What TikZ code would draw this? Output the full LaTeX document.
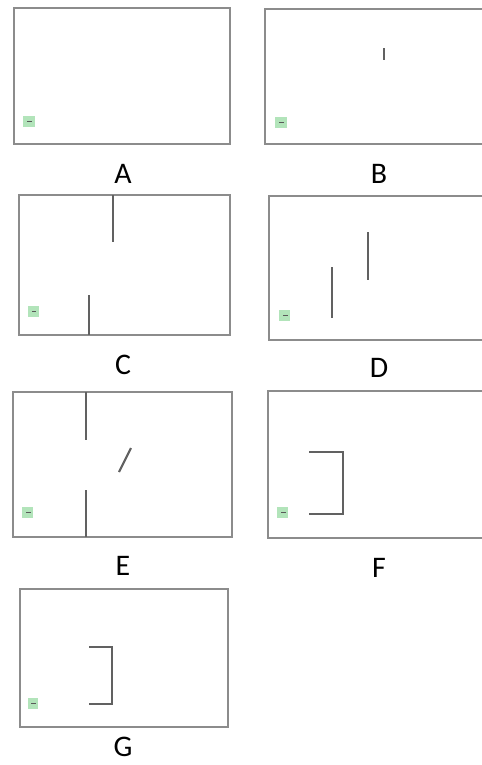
\documentclass[tikz,border=0pt]{standalone}
\usepackage{fontspec}
\setmainfont{Carlito}
\definecolor{padgreen}{RGB}{178,228,186}
\begin{document}
\begin{tikzpicture}[x=0.02cm,y=-0.02cm,
    arena/.style={draw=black!45, line width=1.1pt},
    wall/.style={draw=black!62, line width=1.2pt},
    startpad/.style={fill=padgreen},
    startmark/.style={draw=black!65, line width=0.8pt},
    lab/.style={font=\fontsize{17}{20}\selectfont, inner sep=0pt}]
    \useasboundingbox[fill=white] (0,0) rectangle (482,765);

    % Panel A: empty arena
    \draw[arena] (14,8) rectangle (230,144);
    \fill[startpad] (23,116) rectangle (35,127);
    \draw[startmark] (27,121.5) -- (32,121.5);
    \node[lab] (labA) at (123,174) {A};

    % Panel B: single short wall
    \draw[arena] (490,9) -- (265,9) -- (265,144) -- (490,144);
    \draw[wall] (384,48) -- (384,60);
    \fill[startpad] (275,117) rectangle (287,128);
    \draw[startmark] (279,122.5) -- (284,122.5);
    \node[lab] (labB) at (379,174) {B};

    % Panel C: walls from top and bottom
    \draw[arena] (19,195) rectangle (230,335);
    \draw[wall] (113,195) -- (113,242);
    \draw[wall] (89,295) -- (89,335);
    \fill[startpad] (28,306) rectangle (39,317);
    \draw[startmark] (32,311.5) -- (36,311.5);
    \node[lab] (labC) at (123,365) {C};

    % Panel D: two free walls
    \draw[arena] (490,196) -- (269,196) -- (269,340) -- (490,340);
    \draw[wall] (332,267) -- (332,318);
    \draw[wall] (368,232) -- (368,280);
    \fill[startpad] (279,310) rectangle (290,321);
    \draw[startmark] (283,315.5) -- (288,315.5);
    \node[lab] (labD) at (379,368) {D};

    % Panel E: gap in wall + slanted wall
    \draw[arena] (13,392) rectangle (232,537);
    \draw[wall] (86,392) -- (86,440);
    \draw[wall] (86,490) -- (86,537);
    \draw[wall] (131,448) -- (119,472);
    \fill[startpad] (22,507) rectangle (33,518);
    \draw[startmark] (26,512.5) -- (31,512.5);
    \node[lab] (labE) at (123,566) {E};

    % Panel F: bracket wall
    \draw[arena] (490,391) -- (268,391) -- (268,538) -- (490,538);
    \draw[wall] (309,452) -- (343,452) -- (343,514) -- (309,514);
    \fill[startpad] (277,507) rectangle (288,518);
    \draw[startmark] (281,512.5) -- (286,512.5);
    \node[lab] (labF) at (379,568) {F};

    % Panel G: smaller bracket wall
    \draw[arena] (20,589) rectangle (228,727);
    \draw[wall] (89,647) -- (112,647) -- (112,704) -- (89,704);
    \fill[startpad] (28,698) rectangle (38,709);
    \draw[startmark] (31,703.5) -- (36,703.5);
    \node[lab] (labG) at (123,747) {G};
\end{tikzpicture}
\end{document}
